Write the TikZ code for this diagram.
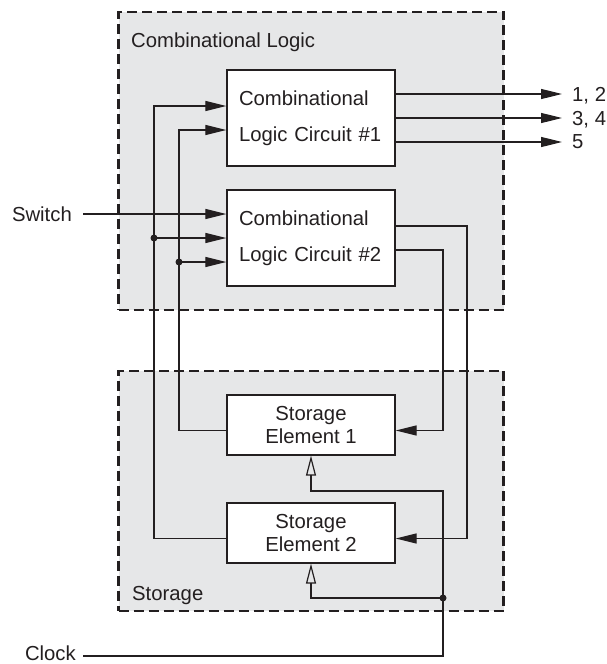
\documentclass[tikz,border=0pt]{standalone}
\usepackage{fontspec}
\setmainfont{Liberation Sans}
\usetikzlibrary{arrows.meta}
\definecolor{ink}{HTML}{231F20}
\definecolor{regionfill}{HTML}{E6E7E8}
\begin{document}
\begin{tikzpicture}[x=1pt,y=-1pt,
  font=\fontsize{20.3}{24}\selectfont, color=ink,
  region/.style={draw=ink, fill=regionfill, line width=2.8pt, dash pattern=on 10pt off 5pt},
  box/.style={draw=ink, fill=white, line width=1.3pt, minimum width=168pt, inner sep=0pt},
  cbox/.style={box, minimum height=96pt, align=left, text width=144pt, font=\fontsize{20.3}{36}\selectfont},
  sbox/.style={box, minimum height=60pt, align=center, font=\fontsize{20.3}{23}\selectfont},
  lab/.style={inner sep=0pt, text depth=0pt},
  wire/.style={draw=ink, line width=1.2pt},
  arr/.style={wire, -{Triangle[length=21pt,width=10pt]}},
  clk/.style={wire, -{Triangle[open,length=20pt,width=10pt,line width=1.2pt]}},
  dot/.style={fill=ink}
]
\useasboundingbox (0,0) rectangle (606,664);

% regions
\node[region, minimum width=385pt, minimum height=298pt, inner sep=0pt] (clg) at (311,161) {};
\node[region, minimum width=385pt, minimum height=240pt, inner sep=0pt] (stg) at (311,491) {};
\node[lab, anchor=west] (clgl) at (131,40) {Combinational Logic};
\node[lab, anchor=west] (stgl) at (132,593) {Storage};

% boxes
\node[cbox] (cl1) at (311,118) {Combinational\\Logic Circuit \#1};
\node[cbox] (cl2) at (311,238) {Combinational\\Logic Circuit \#2};
\node[sbox] (se1) at (311,425) {Storage\\Element 1};
\node[sbox] (se2) at (311,533) {Storage\\Element 2};

% outside labels
\node[lab, anchor=west] (o1) at (572,94) {1, 2};
\node[lab, anchor=west] (o2) at (572,118) {3, 4};
\node[lab, anchor=west] (o3) at (572,142) {5};
\node[lab, anchor=east] (sw) at (72,214) {Switch};
\node[lab, anchor=east] (ck) at (76,653) {Clock};

% bus x positions
\coordinate (bus1) at (154,0);
\coordinate (bus2) at (179,0);
\coordinate (rb1) at (443,0);
\coordinate (rb2) at (467,0);

% outputs of circuit 1
\draw[arr] ([yshift=24pt]cl1.east) -- ([xshift=-10pt]o1.west);
\draw[arr] (cl1.east) -- ([xshift=-10pt]o2.west);
\draw[arr] ([yshift=-24pt]cl1.east) -- ([xshift=-10pt]o3.west);

% switch input
\draw[arr] ([xshift=11pt]sw.east) -- ([yshift=24pt]cl2.west);

% feedback from storage elements
\draw[arr] ([yshift=-5.5pt]se2.west) -| ([yshift=12pt]cl1.west -| bus1) -- ([yshift=12pt]cl1.west);
\draw[arr] ([yshift=-5.5pt]se1.west) -| ([yshift=-12pt]cl1.west -| bus2) -- ([yshift=-12pt]cl1.west);
\coordinate (j1) at (cl2.west -| bus1);
\coordinate (j2) at ([yshift=-24pt]cl2.west -| bus2);
\fill[dot] (j1) circle (3.5pt);
\fill[dot] (j2) circle (3.5pt);
\draw[arr] (j1) -- (cl2.west);
\draw[arr] (j2) -- ([yshift=-24pt]cl2.west);

% next-state outputs of circuit 2
\draw[arr] ([yshift=-12pt]cl2.east) -| ([yshift=-5.5pt]se1.east -| rb1) -- ([yshift=-5.5pt]se1.east);
\draw[arr] ([yshift=12pt]cl2.east) -| ([yshift=-5.5pt]se2.east -| rb2) -- ([yshift=-5.5pt]se2.east);

% clock
\coordinate (ckw) at ([xshift=7pt,yshift=-3pt]ck.east);
\coordinate (cb) at (443,491);
\coordinate (cd) at (443,598);
\draw[clk] (ckw) -| (cb) -| (se1.south);
\fill[dot] (cd) circle (3.5pt);
\draw[clk] (cd) -| (se2.south);
\end{tikzpicture}
\end{document}
